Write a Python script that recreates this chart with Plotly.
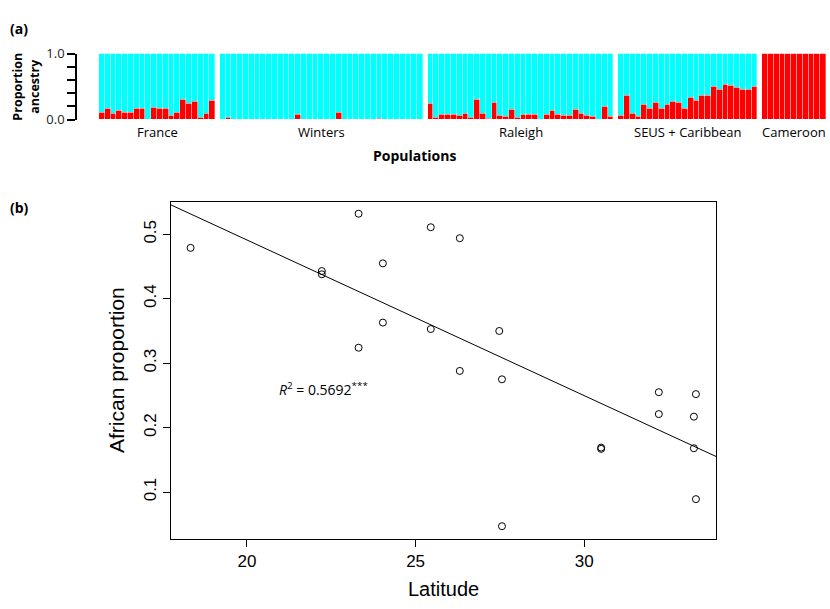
import numpy as np
import plotly.graph_objects as go

# ---------------- Panel (a) data: African (red) ancestry proportion per individual
populations = ["France", "Winters", "Raleigh", "SEUS + Caribbean", "Cameroon"]
france = [0.10, 0.17, 0.084, 0.13, 0.10, 0.10, 0.16, 0.16, 0.0, 0.18,
          0.16, 0.16, 0.054, 0.11, 0.30, 0.24, 0.28, 0.03, 0.084, 0.29]
winters = [0.0, 0.035, 0.0, 0.0, 0.0, 0.0, 0.0, 0.0, 0.0, 0.0,
           0.0, 0.0, 0.0, 0.074, 0.0, 0.0, 0.0, 0.0, 0.0, 0.0,
           0.104, 0.0, 0.0, 0.0, 0.0, 0.0, 0.0, 0.01, 0.0, 0.0,
           0.0, 0.0, 0.0, 0.0, 0.0]
raleigh = [0.24, 0.03, 0.074, 0.074, 0.074, 0.054, 0.09, 0.03, 0.30, 0.09,
           0.02, 0.26, 0.06, 0.045, 0.15, 0.03, 0.074, 0.074, 0.074, 0.0,
           0.074, 0.14, 0.074, 0.064, 0.06, 0.15, 0.094, 0.06, 0.045, 0.0,
           0.20, 0.05]
seus = [0.054, 0.36, 0.09, 0.045, 0.23, 0.17, 0.26, 0.16, 0.22, 0.28,
        0.26, 0.17, 0.33, 0.29, 0.37, 0.36, 0.50, 0.45, 0.53, 0.51,
        0.48, 0.46, 0.455, 0.50]
cameroon = [1.0] * 11
groups = [france, winters, raleigh, seus, cameroon]

# ---------------- Panel (b) data
latitude = [18.33, 22.22, 22.22, 23.31, 23.31, 24.03, 24.03, 25.45, 25.45,
            26.31, 26.31, 27.48, 27.56, 27.56, 30.50, 30.50, 32.21, 32.21,
            33.31, 33.25, 33.25, 33.31]
african = [0.479, 0.443, 0.438, 0.532, 0.324, 0.455, 0.363, 0.511, 0.353,
           0.494, 0.288, 0.350, 0.275, 0.047, 0.169, 0.167, 0.255, 0.221,
           0.252, 0.217, 0.168, 0.089]
r2_text = "<i>R</i><sup>2</sup> = 0.5692<sup>***</sup>"

W, H = 830, 609
def px(x):
    return x / W
def py(y):
    return 1 - y / H

fig = go.Figure()

# build bar positions with small gaps between populations
gap = 0.8
xs, reds, centers = [], [], []
pos = 0.0
for g in groups:
    start = pos
    for i, v in enumerate(g):
        xs.append(pos + i)
        reds.append(v)
    centers.append(start + (len(g) - 1) / 2)
    pos += len(g) + gap
blues = [1 - r for r in reds]
xmax = xs[-1] + 0.5

line_sep = dict(color="rgba(255,255,255,0.55)", width=0.6)
fig.add_trace(go.Bar(x=xs, y=reds, width=1, marker=dict(color="#FF0000", line=line_sep),
                     xaxis="x", yaxis="y", showlegend=False, hoverinfo="skip"))
fig.add_trace(go.Bar(x=xs, y=blues, width=1, marker=dict(color="#00FFFF", line=line_sep),
                     xaxis="x", yaxis="y", showlegend=False, hoverinfo="skip"))

# scatter
fig.add_trace(go.Scatter(x=latitude, y=african, mode="markers",
                         marker=dict(symbol="circle-open", size=7, color="black",
                                     line=dict(width=1, color="black")),
                         xaxis="x2", yaxis="y2", showlegend=False))

# regression line
xr = [17.74, 33.905]
b, a = np.polyfit(latitude, african, 1)
fig.add_trace(go.Scatter(x=xr, y=[a + b * v for v in xr], mode="lines",
                         line=dict(color="black", width=1),
                         xaxis="x2", yaxis="y2", showlegend=False))

sans = "Open Sans, Noto Sans, sans-serif"
helv = "Liberation Sans Narrow, Liberation Sans, Arial, sans-serif"

fig.update_layout(
    width=W, height=H, margin=dict(l=0, r=0, t=0, b=0),
    paper_bgcolor="white", plot_bgcolor="white",
    barmode="stack", bargap=0,
    xaxis=dict(domain=[px(99), px(826)], range=[-0.5, xmax], showgrid=False,
               zeroline=False, showticklabels=False, ticks="", showline=False),
    yaxis=dict(domain=[py(114), py(46)], range=[0, 1], anchor="free", position=px(76),
               showgrid=False, zeroline=False, showline=True, linecolor="black", linewidth=1.5,
               ticks="outside", ticklen=8, tickwidth=1.5, tickcolor="black",
               tickvals=[0, 0.2, 0.4, 0.6, 0.8, 1.0],
               ticktext=["0.0", "", "", "", "", "1.0"],
               tickfont=dict(family=sans, size=13, color="#222")),
    xaxis2=dict(domain=[px(170.7), px(716)], range=[17.74, 33.905], anchor="y2",
                showgrid=False, zeroline=False, showline=True, mirror=True,
                linecolor="black", linewidth=1, ticks="outside", ticklen=7,
                tickcolor="black", tickvals=[20, 25, 30],
                tickfont=dict(family=helv, size=17, color="black")),
    yaxis2=dict(domain=[py(545.7), py(199)], range=[0.0278, 0.550], anchor="x2",
                showgrid=False, zeroline=False, showline=True, mirror=True,
                linecolor="black", linewidth=1, ticks="outside", ticklen=7,
                tickcolor="black", tickvals=[0.1, 0.2, 0.3, 0.4, 0.5],
                ticktext=["0.1", "0.2", "0.3", "0.4", "0.5"], tickangle=-90,
                tickfont=dict(family=helv, size=17, color="black")),
)

def A(x, y, text, size, family=sans, angle=0, xref="paper"):
    return dict(x=x, y=y, xref=xref, yref="paper", text=text, showarrow=False,
                textangle=angle, xanchor="center", yanchor="middle",
                font=dict(family=family, size=size, color="black"))

ann = [A(c, py(127), name, 13, xref="x") for name, c in zip(populations, centers)]
ann += [
    A(px(414), py(151), "<b>Populations</b>", 14),
    A(px(26), py(80), "<b>Proportion<br>ancestry</b>", 12.5, angle=-90),
    A(px(19), py(20), "<b>(a)</b>", 14),
    A(px(19), py(205), "<b>(b)</b>", 14),
    A(px(443), py(598), "Latitude", 20, family=helv),
    A(px(116), py(372), "African proportion", 21, family=helv, angle=-90),
    A(px(323), py(392), r2_text, 14),
]
fig.update_layout(annotations=ann)

fig.write_html("out.html", post_script="document.body.style.margin='0';",
               config={"displayModeBar": False})
